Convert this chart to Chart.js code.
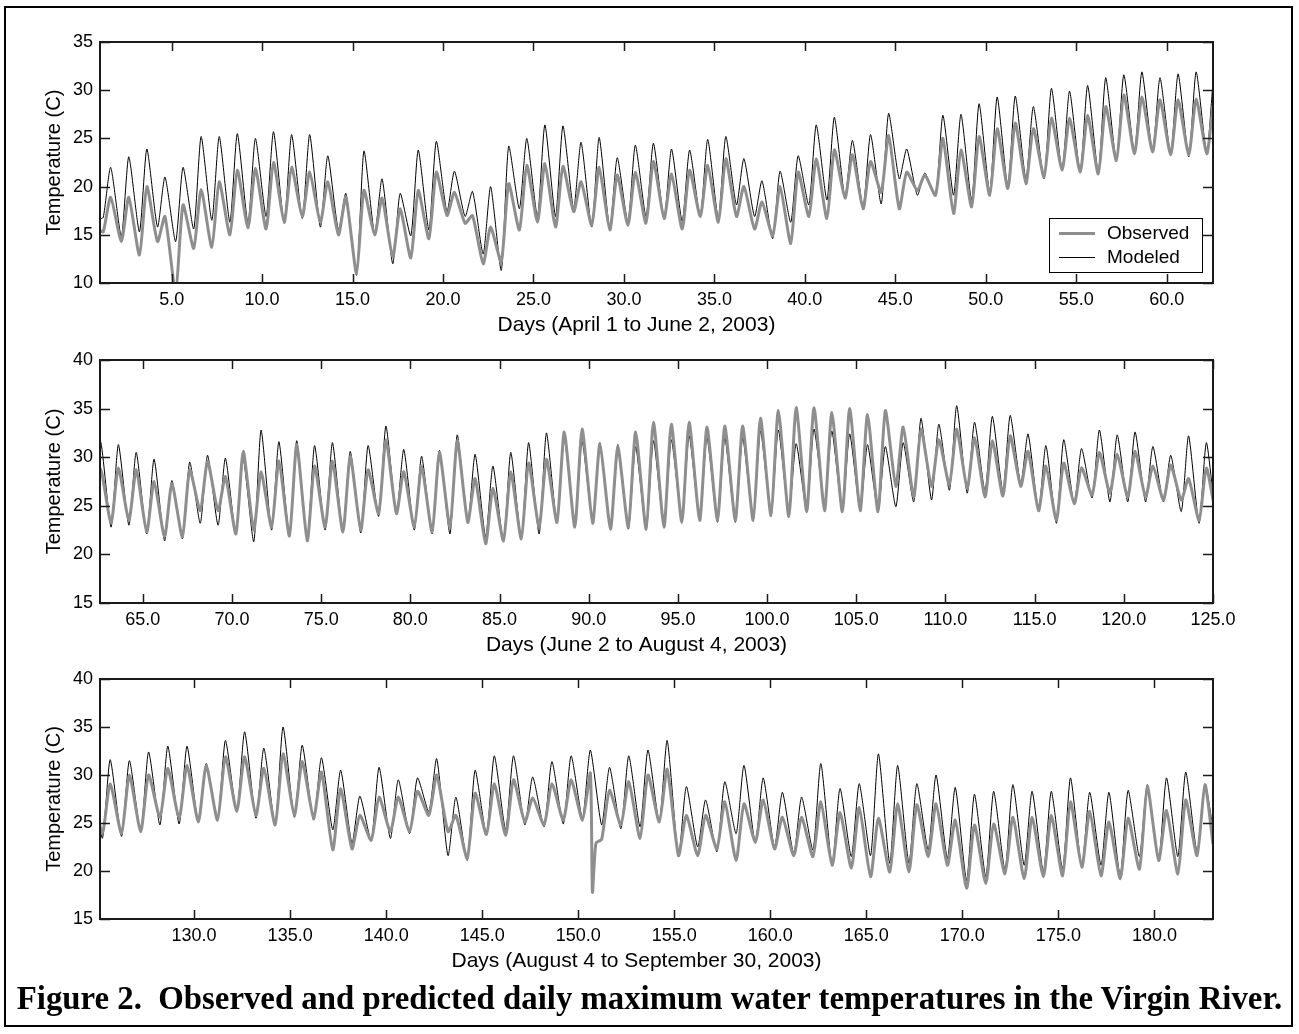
<!DOCTYPE html>
<html>
<head>
<meta charset="utf-8">
<script src="https://cdn.jsdelivr.net/npm/chart.js@4.4.0/dist/chart.umd.min.js"></script>
<style>
  body { margin: 0; background: #fff; width: 1299px; height: 1034px; position: relative; overflow: hidden; }
  #frame { position: absolute; left: 4px; top: 6px; width: 1285px; height: 1017px; border: 2px solid #000; }
  canvas { position: absolute; left: 0; }
  #caption { position: absolute; left: 0; width: 1299px; top: 980px; text-align: center;
             font: bold 32.8px "Liberation Serif", "Times New Roman", serif; white-space: pre; }
</style>
</head>
<body>
<div id="frame"></div>
<canvas id="c1" width="1299" height="340" style="top:0px"></canvas>
<canvas id="c2" width="1299" height="341" style="top:318px"></canvas>
<canvas id="c3" width="1299" height="339" style="top:637px"></canvas>
<div id="caption">Figure 2.  Observed and predicted daily maximum water temperatures in the Virgin River.</div>

<script>
// daily trough (early morning) and peak (afternoon) temperatures
// days 1-62
const modLowApr = [16.8,14.8,15.3,15.8,14.3,15.6,16.5,16.3,16.2,16.9, 16.2,16.7,15.8,15.5,10.8,15.1,12.0,14.9,15.5,17.4,
  16.9,13.0,11.3,17.7,16.9,16.9,17.7,15.8,15.6,16.3, 16.9,16.7,16.4,16.9,16.7,18.1,16.9,14.6,16.3,18.1,
  18.6,18.9,17.9,18.2,20.8,19.1,19.1,19.1,18.6,19.4, 20.0,20.8,20.8,21.7,21.5,21.5,22.7,23.6,23.6,23.4, 23.1,23.4];
const modHighApr = [22.0,23.1,23.9,21.0,22.0,25.2,25.2,25.5,25.0,25.7, 25.4,25.4,23.2,19.3,23.7,20.8,19.3,23.8,24.7,21.6,
  19.5,20.0,24.2,25.0,26.4,26.3,24.6,25.1,23.0,24.3, 24.5,23.9,23.8,24.9,25.2,22.9,20.6,21.6,23.2,26.4,
  27.2,24.8,25.4,27.6,23.9,21.4,27.4,27.5,28.6,29.3, 29.4,28.3,30.2,29.9,30.5,31.3,31.6,31.9,31.3,31.7, 31.9,31.6];
const obsLowApr = [15.3,14.3,12.9,14.3,9.0,13.6,13.7,15.0,15.7,15.6, 16.3,16.9,16.3,15.0,11.0,15.0,12.7,12.6,14.6,17.0,
  16.2,12.0,12.2,15.5,16.3,15.8,17.4,16.0,15.5,16.0, 16.2,16.7,15.6,16.9,16.3,16.9,15.6,14.9,14.1,16.9,
  16.7,18.8,17.7,19.4,17.7,19.6,19.1,17.2,17.9,19.1, 19.8,20.3,21.0,21.7,21.5,21.3,22.7,23.4,23.6,23.3, 23.3,23.4];
const obsHighApr = [18.9,18.9,20.0,16.9,18.1,19.7,20.5,21.7,21.9,22.5, 22.0,21.5,20.5,18.9,19.6,18.8,17.7,19.6,21.5,19.4,
  17.0,15.8,20.3,22.2,22.4,22.1,20.5,22.0,21.2,21.5, 22.6,21.3,21.7,22.2,22.9,20.0,18.4,20.0,21.5,22.9,
  23.8,23.3,22.6,25.3,21.5,21.2,25.0,23.8,25.2,26.0, 26.6,26.0,27.1,27.1,27.4,28.3,29.5,29.3,29.0,29.0, 29.1,28.8];

// days 63-124
const modLowJun = [22.8,23.0,22.1,21.4,21.6,23.2,23.0,22.1,21.3,22.5, 21.9,21.4,22.5,22.3,22.2,23.9,24.2,22.5,22.1,22.1,
  23.2,21.8,21.3,21.6,22.1,23.3,23.0,23.3,22.6,22.6, 22.5,22.8,23.5,23.5,23.3,23.3,23.5,24.0,24.2,24.5,
  25.2,24.4,24.5,24.4,24.9,25.4,25.6,26.6,26.3,26.5, 26.5,27.3,24.5,23.2,25.2,25.8,25.4,25.4,25.4,25.4, 24.4,23.2];
const modHighJun = [31.3,30.5,29.8,27.6,29.5,30.2,29.9,29.8,32.8,31.6, 31.7,31.2,31.5,30.6,31.2,33.2,30.8,30.1,30.7,32.3,
  30.3,29.1,30.5,31.5,32.5,31.9,31.6,31.4,31.3,31.1, 31.7,31.8,32.2,32.0,32.0,32.0,32.7,32.8,31.4,32.9,
  32.7,32.4,31.3,31.1,31.5,34.0,33.4,35.3,33.6,34.2, 34.3,32.4,31.2,31.8,30.9,32.8,32.3,32.6,31.1,30.2, 32.2,31.5];
const obsLowJun = [23.2,23.5,22.3,21.8,21.8,24.5,24.5,22.1,22.5,22.8, 21.9,21.4,22.8,22.3,22.5,24.2,24.2,22.8,22.3,22.8,
  23.3,21.1,21.4,21.6,22.8,23.3,22.8,23.2,22.6,22.8, 22.6,22.8,23.3,23.5,23.5,23.5,23.5,24.0,23.9,24.4,
  24.5,24.4,24.5,24.4,27.0,25.9,27.0,27.2,26.8,25.9, 26.0,27.0,24.5,23.5,25.2,26.1,26.3,25.9,25.9,25.6, 25.6,23.5];
const obsHighJun = [28.9,28.7,27.5,27.3,28.7,29.6,28.0,30.6,28.5,29.6, 31.3,29.1,29.6,30.1,28.7,31.8,28.5,29.1,30.5,31.7,
  27.8,26.8,28.5,29.4,29.8,32.6,32.9,31.4,31.1,32.6, 33.6,33.4,33.6,33.1,33.2,33.2,34.0,34.8,35.1,35.1,
  34.6,35.0,34.4,34.8,33.1,32.9,31.8,32.9,32.0,31.7, 32.2,30.6,29.1,29.4,28.9,30.5,30.3,30.6,29.1,29.2, 27.8,28.9];

// days 125-182
const modLowAug = [23.4,23.6,24.1,24.8,24.9,25.1,25.3,26.2,25.5,24.8, 25.6,25.3,24.3,22.9,23.2,23.4,23.9,26.2,21.6,21.1,
  23.8,24.3,24.8,24.6,24.9,25.5,24.8,24.4,24.6,25.1, 21.5,22.5,22.0,23.9,22.9,22.5,21.8,22.2,20.6,21.5,
  21.6,20.8,20.8,22.2,21.3,19.0,19.4,20.1,20.6,19.9, 20.2,20.4,20.6,19.5,21.5,21.1,21.5,22.0];
const modHighAug = [31.6,31.5,32.4,33.0,33.0,31.2,33.6,34.5,32.8,35.0, 33.1,31.8,30.5,27.8,30.8,29.5,29.7,31.7,27.7,30.5,
  32.0,32.0,29.8,31.4,32.0,32.6,30.8,32.0,32.6,33.6, 28.8,27.4,29.3,31.0,29.7,28.2,27.7,31.2,28.6,29.1,
  32.2,31.0,29.1,30.0,28.7,28.0,28.3,29.0,28.3,28.3, 29.7,28.2,28.2,28.4,29.0,29.7,30.3,29.0];
const obsLowAug = [23.9,23.9,24.1,25.6,25.5,25.1,25.3,26.2,25.8,24.8, 25.8,25.5,22.2,22.3,23.2,24.1,24.1,25.8,24.1,21.3,
  23.8,23.7,25.1,24.8,25.3,25.3,23.3,24.8,23.4,25.1, 21.6,21.6,22.3,21.1,23.0,22.3,21.6,21.5,20.6,20.3,
  19.4,19.9,19.9,21.5,20.6,18.2,18.7,19.7,19.2,19.4, 19.5,20.4,19.5,19.2,20.2,21.1,19.7,21.6];
const obsHighAug = [29.1,30.0,30.0,30.7,31.0,31.0,31.9,31.9,30.7,32.2, 31.4,30.3,28.6,25.8,27.7,27.7,28.3,30.0,25.8,28.1,
  29.1,29.5,27.6,29.1,29.5,30.2,28.4,29.3,30.0,30.6, 25.8,25.8,27.2,27.0,27.4,25.6,25.6,27.2,26.1,26.6,
  25.5,27.0,26.9,27.0,25.3,24.8,24.9,25.6,25.6,25.8, 27.2,26.2,25.1,25.5,28.8,26.3,27.4,29.0];

// readings that don't fit the daily low/high pattern: [day, temperature]
const modExtra = [[1.0, 16.6], [183.05, 24.5]];
const obsExtra = [[1.0, 15.5], [150.74, 17.8], [150.92, 22.9], [183.05, 22.8]];

// panel x ranges, y ranges and axis titles
const panelDays = [[1.04, 62.56], [62.6, 125], [125.1, 183.05]];
const panelTemps = [[10, 35], [15, 40], [15, 40]];
const panelTitles = ['Days (April 1 to June 2, 2003)', 'Days (June 2 to August 4, 2003)', 'Days (August 4 to September 30, 2003)'];

const LOW_AT = 0.22, HIGH_AT = 0.63;

function buildSeries(lows, highs, extra) {
  const pts = [];
  lows.forEach((v, i) => {
    pts.push({ x: 1 + i + LOW_AT, y: v });
    pts.push({ x: 1 + i + HIGH_AT, y: highs[i] });
  });
  extra.forEach(p => pts.push({ x: p[0], y: p[1] }));
  return pts.sort((a, b) => a.x - b.x);
}

const observed = buildSeries(obsLowApr.concat(obsLowJun, obsLowAug), obsHighApr.concat(obsHighJun, obsHighAug), obsExtra);
const modeled = buildSeries(modLowApr.concat(modLowJun, modLowAug), modHighApr.concat(modHighJun, modHighAug), modExtra);

const FONT = "'Liberation Sans', Arial, sans-serif";
Chart.defaults.font.family = FONT;
Chart.defaults.font.size = 18;
Chart.defaults.color = '#000';

// frame and inward tick marks like the original plot
const frameTicks = {
  id: 'frameTicks',
  afterDraw(chart) {
    const { ctx, chartArea: a, scales: { x, y } } = chart;
    ctx.save();
    ctx.strokeStyle = '#1a1a1a';
    ctx.lineWidth = 1.5;
    ctx.beginPath();
    x.ticks.forEach(t => {
      const px = Math.round(x.getPixelForValue(t.value)) + 0.5;
      ctx.moveTo(px, a.top); ctx.lineTo(px, a.top + 9);
      ctx.moveTo(px, a.bottom); ctx.lineTo(px, a.bottom - 9);
    });
    y.ticks.forEach(t => {
      const py = Math.round(y.getPixelForValue(t.value)) + 0.5;
      ctx.moveTo(a.left, py); ctx.lineTo(a.left + 10, py);
      ctx.moveTo(a.right, py); ctx.lineTo(a.right - 10, py);
    });
    ctx.stroke();
    ctx.lineWidth = 2;
    ctx.strokeRect(a.left, a.top, a.right - a.left, a.bottom - a.top);
    ctx.restore();
  }
};

// x axis title, centred a little left of the plot centre as in the original
const xTitle = {
  id: 'xTitle',
  afterDraw(chart, args, opts) {
    const { ctx, chartArea: a } = chart;
    ctx.save();
    ctx.font = '21px ' + FONT;
    ctx.fillStyle = '#000';
    ctx.textAlign = 'center';
    ctx.textBaseline = 'middle';
    ctx.fillText(opts.text, (a.left + a.right) / 2 - 20, a.bottom + 42);
    ctx.restore();
  }
};

// legend box in the lower right of the first panel
const boxLegend = {
  id: 'boxLegend',
  afterDraw(chart, args, opts) {
    if (!opts.show) return;
    const { ctx, chartArea: a } = chart;
    const w = 153, h = 54;
    const left = a.right - 11 - w, top = a.bottom - 11 - h;
    ctx.save();
    ctx.fillStyle = '#fff';
    ctx.fillRect(left, top, w, h);
    ctx.strokeStyle = '#000';
    ctx.lineWidth = 1;
    ctx.strokeRect(left + 0.5, top + 0.5, w, h);
    ctx.font = '19px ' + FONT;
    ctx.textBaseline = 'middle';
    chart.data.datasets.forEach((ds, i) => {
      const cy = top + 15 + i * 24 + (ds.borderWidth % 2 ? 0.5 : 0);
      ctx.strokeStyle = ds.borderColor;
      ctx.lineWidth = ds.borderWidth;
      ctx.beginPath();
      ctx.moveTo(left + 10, cy); ctx.lineTo(left + 46, cy);
      ctx.stroke();
      ctx.fillStyle = '#000';
      ctx.fillText(ds.label, left + 58, cy);
    });
    ctx.restore();
  }
};

function makePanel(id, k) {
  const xAxisHeight = k === 1 ? 56 : 57;
  new Chart(document.getElementById(id), {
    type: 'line',
    data: {
      datasets: [
        { label: 'Observed', data: observed, borderColor: '#8e8e8e', borderWidth: 3, pointRadius: 0,
          tension: 0.2, clip: 1 },
        { label: 'Modeled', data: modeled, borderColor: '#000', borderWidth: 1, pointRadius: 0,
          tension: 0.2, clip: 1 }
      ]
    },
    options: {
      responsive: false,
      animation: false,
      events: [],
      layout: { padding: { top: 42, right: 86, left: 0, bottom: 0 } },
      scales: {
        x: {
          type: 'linear',
          min: panelDays[k][0],
          max: panelDays[k][1],
          grid: { display: false, drawTicks: false },
          border: { display: false },
          ticks: { stepSize: 5, includeBounds: false, padding: 6, maxRotation: 0, autoSkip: false,
                   callback: v => v.toFixed(1) },
          afterFit: s => { s.height = xAxisHeight; }
        },
        y: {
          min: panelTemps[k][0],
          max: panelTemps[k][1],
          grid: { display: false, drawTicks: false },
          border: { display: false },
          ticks: { stepSize: 5, padding: 7 },
          title: { display: true, text: 'Temperature (C)', font: { size: 20 }, padding: { top: 42, bottom: 0 } },
          afterFit: s => { s.width = 100; }
        }
      },
      plugins: {
        legend: { display: false },
        tooltip: { enabled: false },
        xTitle: { text: panelTitles[k] },
        boxLegend: { show: k === 0 }
      }
    },
    plugins: [frameTicks, xTitle, boxLegend]
  });
}

makePanel('c1', 0);
makePanel('c2', 1);
makePanel('c3', 2);
</script>
</body>
</html>
